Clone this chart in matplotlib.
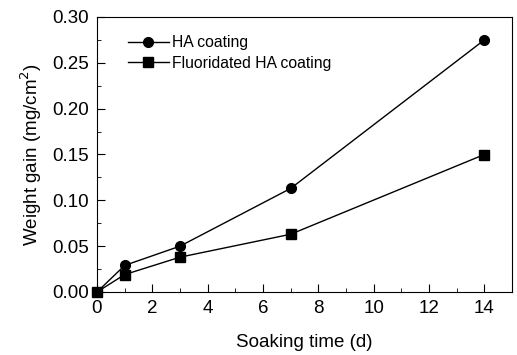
import matplotlib
matplotlib.use("Agg")
import matplotlib.pyplot as plt
from matplotlib.ticker import MultipleLocator

plt.rcParams["font.family"] = ["Liberation Sans", "DejaVu Sans"]

days = [0, 1, 3, 7, 14]
ha_gain = [0.0, 0.029, 0.050, 0.113, 0.275]
fha_gain = [0.0, 0.019, 0.038, 0.063, 0.150]

fig = plt.figure(figsize=(5.17, 3.55), dpi=100)
ax = fig.add_axes([97 / 517, 1 - 292 / 355, (512 - 97) / 517, (292 - 17) / 355])

ax.plot(days, ha_gain, "k-", marker="o", ms=7, lw=1, label="HA coating", clip_on=False, zorder=3)
ax.plot(days, fha_gain, "k-", marker="s", ms=6.5, lw=1, label="Fluoridated HA coating", clip_on=False, zorder=3)

ax.set_xlim(0, 15)
ax.set_ylim(0, 0.30)
ax.xaxis.set_major_locator(MultipleLocator(2))
ax.xaxis.set_minor_locator(MultipleLocator(1))
ax.yaxis.set_major_locator(MultipleLocator(0.05))
ax.yaxis.set_minor_locator(MultipleLocator(0.025))
ax.yaxis.set_major_formatter(plt.FormatStrFormatter("%.2f"))
ax.tick_params(which="both", direction="in", top=False, right=False, labelsize=13.5)
ax.tick_params(which="major", length=6, pad=6)
ax.tick_params(which="minor", length=3)
ax.set_xlabel("Soaking time (d)", fontsize=13.5, labelpad=12)
ax.set_ylabel("Weight gain (mg/cm$^2$)", fontsize=13.5, labelpad=6)

ax.legend(loc="upper left", frameon=False, fontsize=11.3, handlelength=2.6,
          borderaxespad=0.5, handletextpad=0.2, labelspacing=0.35, bbox_to_anchor=(0.04, 0.985))

fig.savefig("out.png", dpi=100)
